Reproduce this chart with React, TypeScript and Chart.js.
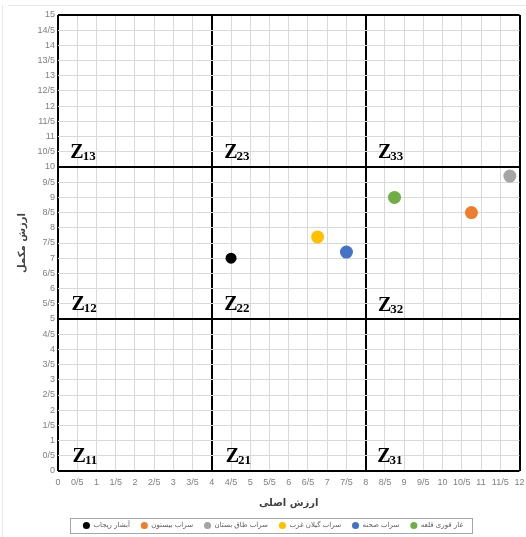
import React, { useEffect, useRef } from "react";
import { Chart, registerables } from "chart.js";

Chart.register(...registerables);

const seriesNames = ["آبشار ریجاب", "سراب بیستون", "سراب طاق بستان", "سراب گیلان غرب", "سراب صحنه", "غار قوری قلعه"];
const seriesColors = ["#000000", "#ED7D31", "#A5A5A5", "#FFC000", "#4472C4", "#70AD47"];
const seriesX = [4.5, 10.75, 11.75, 6.75, 7.5, 8.75];
const seriesY = [7, 8.5, 9.7, 7.7, 7.2, 9];

const xTickLabels = ["0", "0/5", "1", "1/5", "2", "2/5", "3", "3/5", "4", "4/5", "5", "5/5", "6", "6/5", "7", "7/5", "8", "8/5", "9", "9/5", "10", "10/5", "11", "11/5", "12"];
const yTickLabels = ["0", "0/5", "1", "1/5", "2", "2/5", "3", "3/5", "4", "4/5", "5", "5/5", "6", "6/5", "7", "7/5", "8", "8/5", "9", "9/5", "10", "10/5", "11", "11/5", "12", "12/5", "13", "13/5", "14", "14/5", "15"];
const xMajor = [0, 4, 8, 12];
const yMajor = [0, 5, 10, 15];

const zoneMain = ["Z", "Z", "Z", "Z", "Z", "Z", "Z", "Z", "Z"];
const zoneSub = ["13", "23", "33", "12", "22", "32", "11", "21", "31"];
const zoneX = [0.32, 4.32, 8.32, 0.35, 4.32, 8.32, 0.38, 4.36, 8.3];
const zoneY = [10.3, 10.3, 10.3, 5.3, 5.3, 5.27, 0.31, 0.31, 0.28];

const xTitle = "ارزش اصلی";
const yTitle = "ارزش مکمل";

const zonePlugin = {
  id: "zones",
  afterLayout(chart: any) {
    const lg = chart.legend;
    if (lg) {
      lg.left += 12;
      lg.right += 12;
      lg.top += 2;
      lg.bottom += 2;
    }
  },
  afterDatasetsDraw(chart: any) {
    const { ctx, scales } = chart;
    ctx.save();
    ctx.fillStyle = "#000000";
    ctx.textBaseline = "alphabetic";
    ctx.textAlign = "left";
    for (let i = 0; i < zoneMain.length; i++) {
      const px = scales.x.getPixelForValue(zoneX[i]);
      const py = scales.y.getPixelForValue(zoneY[i]);
      ctx.font = "bold 20px 'Liberation Serif'";
      ctx.fillText(zoneMain[i], px, py);
      const w = ctx.measureText(zoneMain[i]).width;
      ctx.font = "bold 13px 'Liberation Serif'";
      ctx.fillText(zoneSub[i], px + w - 1, py + 2);
    }
    ctx.restore();
  },
  afterDraw(chart: any) {
    const { ctx } = chart;
    const lg = chart.legend;
    if (lg && lg.legendHitBoxes && lg.legendHitBoxes.length) {
      let l = Infinity, r = -Infinity, t = Infinity, b = -Infinity;
      lg.legendHitBoxes.forEach((h: any) => {
        l = Math.min(l, h.left);
        r = Math.max(r, h.left + h.width);
        t = Math.min(t, h.top);
        b = Math.max(b, h.top + h.height);
      });
      ctx.save();
      ctx.strokeStyle = "#a6a6a6";
      ctx.lineWidth = 1;
      ctx.strokeRect(Math.round(l - 13) + 0.5, Math.round(t - 4) + 0.5, Math.round(r - l + 22), Math.round(b - t + 8));
      ctx.restore();
    }
    ctx.save();
    ctx.strokeStyle = "#e8e8e8";
    ctx.lineWidth = 1;
    ctx.beginPath();
    ctx.moveTo(8, 5.5);
    ctx.lineTo(chart.width, 5.5);
    ctx.moveTo(2.5, 5);
    ctx.lineTo(2.5, chart.height);
    ctx.stroke();
    ctx.restore();
  },
};

export default function App() {
  const ref = useRef<HTMLCanvasElement>(null);
  useEffect(() => {
    document.body.style.margin = "0";
    const datasets = seriesNames.map((name, i) => ({
      label: name,
      data: [{ x: seriesX[i], y: seriesY[i] }],
      backgroundColor: seriesColors[i],
      borderColor: seriesColors[i],
      borderWidth: 0,
      pointRadius: i === 0 ? 5.5 : 6.5,
      pointHoverRadius: 6.5,
      showLine: false,
    }));
    const chart = new Chart(ref.current as HTMLCanvasElement, {
      type: "scatter",
      data: { datasets },
      plugins: [zonePlugin],
      options: {
        animation: false,
        responsive: true,
        maintainAspectRatio: false,
        layout: { padding: { top: 15, right: 4, bottom: 0, left: 0 } },
        plugins: {
          tooltip: { enabled: false },
          legend: {
            position: "bottom",
            labels: {
              usePointStyle: true,
              pointStyle: "circle",
              boxWidth: 7,
              boxHeight: 5,
              padding: 11,
              color: "#595959",
              font: { size: 7, family: "'DejaVu Sans'" },
            },
          },
        },
        scales: {
          x: {
            type: "linear",
            min: 0,
            max: 12,
            afterFit: (s: any) => {
              s.height = 38;
              s.paddingRight = 0;
              s.paddingLeft = 0;
            },
            ticks: {
              stepSize: 0.5,
              autoSkip: false,
              maxRotation: 0,
              minRotation: 0,
              padding: 6,
              color: "#808080",
              font: { size: 9, family: "'Liberation Sans'" },
              callback: (_v: any, i: number) => xTickLabels[i],
            },
            grid: {
              drawTicks: false,
              color: (c: any) => (xMajor.includes(c.tick?.value) ? "#000000" : "#d9d9d9"),
              lineWidth: (c: any) => (xMajor.includes(c.tick?.value) ? 2 : 1),
            },
            border: { display: false },
            title: {
              display: true,
              text: xTitle,
              color: "#404040",
              font: { size: 10, weight: "bold", family: "'DejaVu Sans'" },
              padding: { top: 0, bottom: 0 },
            },
          },
          y: {
            type: "linear",
            min: 0,
            max: 15,
            afterFit: (s: any) => { s.width = 58; },
            ticks: {
              stepSize: 0.5,
              autoSkip: false,
              padding: 3,
              color: "#808080",
              font: { size: 9, family: "'Liberation Sans'" },
              callback: (_v: any, i: number) => yTickLabels[i],
            },
            grid: {
              drawTicks: false,
              color: (c: any) => (yMajor.includes(c.tick?.value) ? "#000000" : "#d9d9d9"),
              lineWidth: (c: any) => (yMajor.includes(c.tick?.value) ? 2 : 1),
            },
            border: { display: false },
            title: {
              display: true,
              text: yTitle,
              color: "#404040",
              font: { size: 10, weight: "bold", family: "'DejaVu Sans'" },
              padding: { top: 16, bottom: 0 },
            },
          },
        },
      },
    });
    return () => chart.destroy();
  }, []);
  return (
    <div style={{ width: 526, height: 537, position: "relative", background: "#ffffff" }}>
      <canvas ref={ref} />
    </div>
  );
}
